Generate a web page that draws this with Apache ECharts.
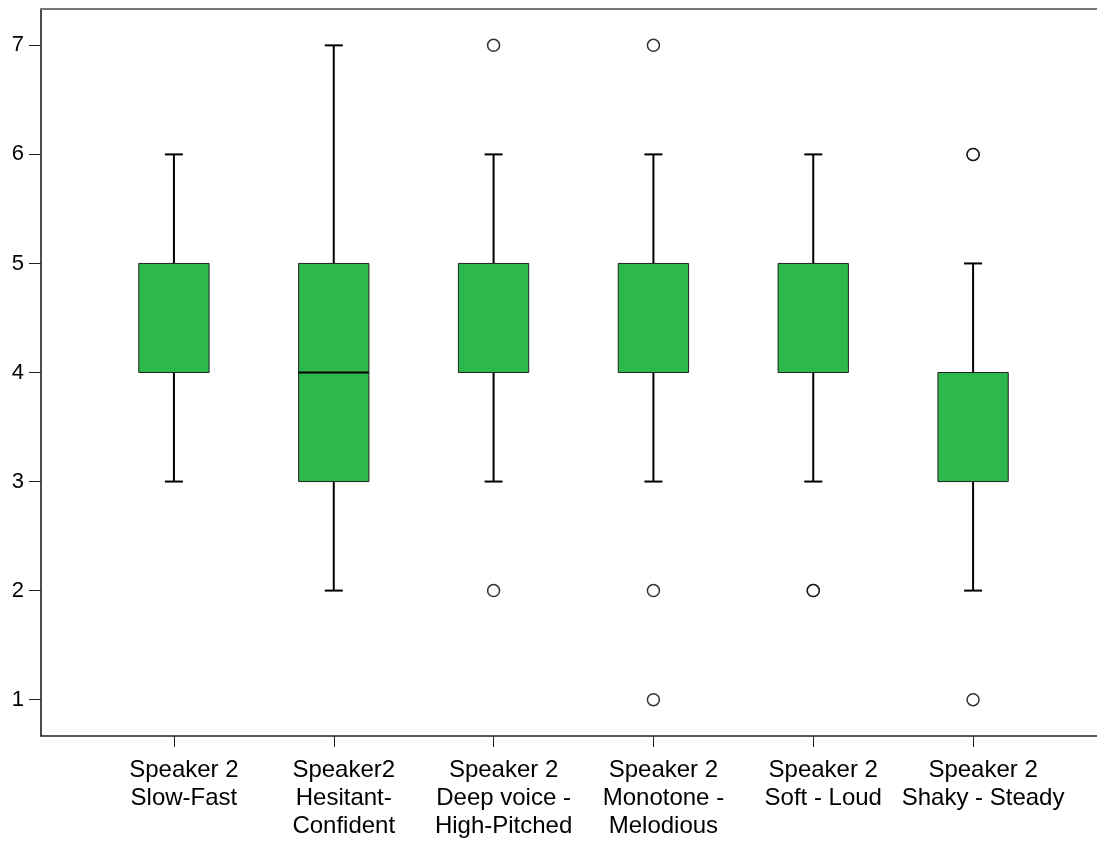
<!DOCTYPE html>
<html>
<head>
<meta charset="utf-8">
<script src="https://cdn.jsdelivr.net/npm/echarts@6/dist/echarts.min.js"></script>
<style>
  html, body { margin: 0; padding: 0; background: #fff; }
  #chart { width: 1097px; height: 847px; }
</style>
</head>
<body>
<div id="chart"></div>
<script>
// Rating scales (one box per scale)
const categories = [
  'Speaker 2\nSlow-Fast',
  'Speaker2\nHesitant-\nConfident',
  'Speaker 2\nDeep voice -\nHigh-Pitched',
  'Speaker 2\nMonotone -\nMelodious',
  'Speaker 2\nSoft - Loud',
  'Speaker 2\nShaky - Steady'
];
// Five-number summaries: [lower whisker, Q1, median, Q3, upper whisker]
const whiskerLow  = [3, 2, 3, 3, 3, 2];
const quartile1   = [4, 3, 4, 4, 4, 3];
const medians     = [4, 4, 4, 4, 4, 3];
const quartile3   = [5, 5, 5, 5, 5, 4];
const whiskerHigh = [6, 7, 6, 6, 6, 5];
// Outliers as [scale index, value]; repeated values are repeated cases
const outliers = [
  [2, 7], [2, 2],
  [3, 7], [3, 2], [3, 1],
  [4, 2], [4, 2],
  [5, 6], [5, 6], [5, 1]
];
const yTicks = [1, 2, 3, 4, 5, 6, 7];
const yMin = yTicks[0] - 1 / 3;
const yMax = yTicks[yTicks.length - 1] + 1 / 3;

const boxData = categories.map((c, i) => [i, whiskerLow[i], quartile1[i], medians[i], quartile3[i], whiskerHigh[i]]);

const FONT = '"Liberation Sans", Arial, sans-serif';

function renderBox(params, api) {
  const idx = api.value(0);
  const band = api.size([1, 0])[0];
  const boxW = band * 0.44;
  const capW = band * 0.1125;
  const pLow = api.coord([idx, api.value(1)]);
  const pQ1 = api.coord([idx, api.value(2)]);
  const pMed = api.coord([idx, api.value(3)]);
  const pQ3 = api.coord([idx, api.value(4)]);
  const pHigh = api.coord([idx, api.value(5)]);
  const cx = pQ1[0];
  const lineStyle = { stroke: '#000', lineWidth: 2 };
  const children = [
    { type: 'line', shape: { x1: cx, y1: pHigh[1], x2: cx, y2: pQ3[1] }, style: lineStyle },
    { type: 'line', shape: { x1: cx, y1: pQ1[1], x2: cx, y2: pLow[1] }, style: lineStyle },
    { type: 'line', shape: { x1: cx - capW / 2, y1: pHigh[1], x2: cx + capW / 2, y2: pHigh[1] }, style: lineStyle },
    { type: 'line', shape: { x1: cx - capW / 2, y1: pLow[1], x2: cx + capW / 2, y2: pLow[1] }, style: lineStyle },
    { type: 'rect', shape: { x: cx - boxW / 2, y: pQ3[1], width: boxW, height: pQ1[1] - pQ3[1] },
      style: { fill: '#2db84b', stroke: '#222', lineWidth: 1 } }
  ];
  // A median that sits on a box edge is already drawn by the edge itself
  if (api.value(3) > api.value(2) && api.value(3) < api.value(4)) {
    children.push({ type: 'line', shape: { x1: cx - boxW / 2, y1: pMed[1], x2: cx + boxW / 2, y2: pMed[1] },
      style: { stroke: '#000', lineWidth: 2 } });
  }
  return { type: 'group', children };
}

const chart = echarts.init(document.getElementById('chart'), null, { renderer: 'canvas' });
chart.setOption({
  animation: false,
  backgroundColor: '#fff',
  grid: [
    { left: 41, top: 9, right: -10, bottom: 111 },
    { left: 94, top: 9, right: 44, bottom: 111 }
  ],
  xAxis: [
    { gridIndex: 0, type: 'value', position: 'bottom', min: 0, max: 1,
      axisLine: { show: true, lineStyle: { color: '#222', width: 1.5 } },
      axisTick: { show: false }, axisLabel: { show: false }, splitLine: { show: false } },
    { gridIndex: 0, type: 'value', position: 'top', min: 0, max: 1,
      axisLine: { show: true, lineStyle: { color: '#777', width: 2 } },
      axisTick: { show: false }, axisLabel: { show: false }, splitLine: { show: false } },
    { gridIndex: 1, type: 'category', data: categories, boundaryGap: true,
      axisLine: { show: false },
      axisTick: { show: true, alignWithLabel: true, length: 11, lineStyle: { color: '#222', width: 1 } },
      axisLabel: { color: '#000', fontSize: 24, fontFamily: FONT, lineHeight: 28, margin: 20, interval: 0,
        padding: [0, 0, 0, 20] },
      splitLine: { show: false } }
  ],
  yAxis: [
    { gridIndex: 0, type: 'value', min: yMin, max: yMax,
      axisLine: { show: true, lineStyle: { color: '#111', width: 1.5 } },
      axisTick: { show: true, length: 12, customValues: yTicks, lineStyle: { color: '#222', width: 1 } },
      axisLabel: { color: '#000', fontSize: 22, fontFamily: FONT, margin: 17, customValues: yTicks },
      splitLine: { show: false } },
    { gridIndex: 1, type: 'value', min: yMin, max: yMax, show: false }
  ],
  series: [
    { type: 'custom', xAxisIndex: 2, yAxisIndex: 1, data: boxData,
      encode: { x: 0, y: [1, 2, 3, 4, 5] }, renderItem: renderBox, z: 2 },
    { type: 'scatter', xAxisIndex: 2, yAxisIndex: 1, data: outliers,
      symbol: 'circle', symbolSize: 12,
      itemStyle: { color: '#fff', borderColor: '#000', borderWidth: 1.5 }, z: 3 }
  ]
});
</script>
</body>
</html>
